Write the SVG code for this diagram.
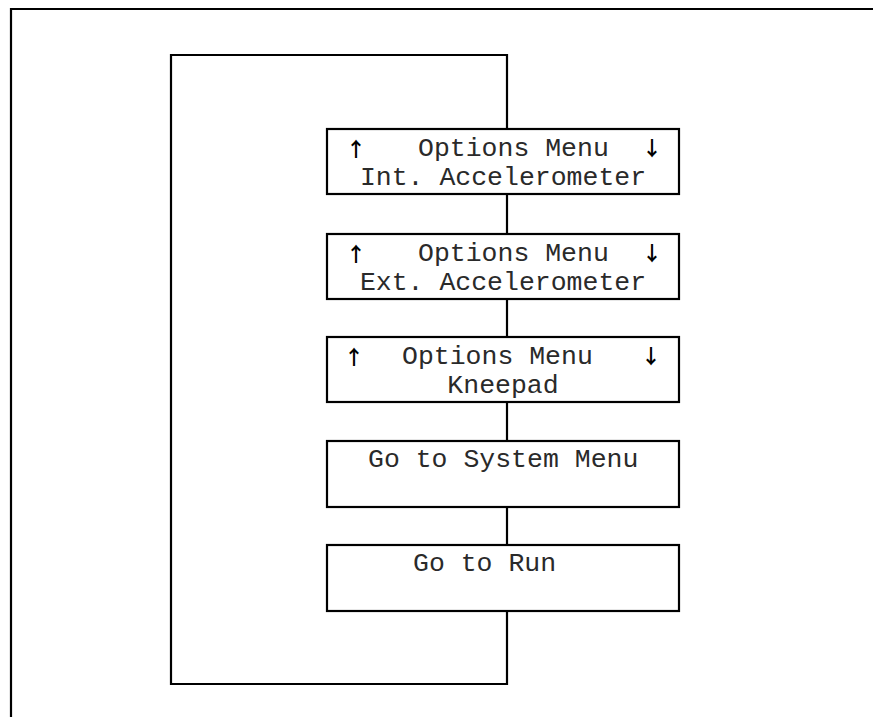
<svg xmlns="http://www.w3.org/2000/svg" width="873" height="717" viewBox="0 0 873 717">
<style>
.ln{fill:none;stroke:#000;stroke-width:2.2}
.box{fill:#fff;stroke:#000;stroke-width:2.2}
text{font-family:"Liberation Mono","Courier New",monospace;font-size:26.5px;fill:#2a2a2a}
.c{text-anchor:middle}
.ar{font-family:"Noto Sans CJK SC",sans-serif;font-size:20px;font-weight:bold;fill:#000;text-anchor:middle}
</style>
<rect width="873" height="717" fill="#fff"/>
<path class="ln" d="M11,717 V9 H873"/>
<g id="connectors">
<path class="ln" d="M507,129 V55 H171 V684 H507 V611"/>
<path class="ln" d="M507,194 V234"/>
<path class="ln" d="M507,299 V337"/>
<path class="ln" d="M507,402 V441"/>
<path class="ln" d="M507,507 V545"/>
</g>
<g id="n1">
<rect class="box" x="327" y="129" width="352" height="65"/>
<text class="ar" x="356" y="157">↑</text>
<text x="418" y="156">Options Menu</text>
<text class="ar" x="652" y="156">↓</text>
<text class="c" x="503" y="185">Int. Accelerometer</text>
</g>
<g id="n2">
<rect class="box" x="327" y="234" width="352" height="65"/>
<text class="ar" x="356" y="262">↑</text>
<text x="418" y="261">Options Menu</text>
<text class="ar" x="652" y="261">↓</text>
<text class="c" x="503" y="290">Ext. Accelerometer</text>
</g>
<g id="n3">
<rect class="box" x="327" y="337" width="352" height="65"/>
<text class="ar" x="354" y="365">↑</text>
<text x="402" y="364">Options Menu</text>
<text class="ar" x="651" y="364">↓</text>
<text class="c" x="503" y="393">Kneepad</text>
</g>
<g id="n4">
<rect class="box" x="327" y="441" width="352" height="66"/>
<text x="368" y="467">Go to System Menu</text>
</g>
<g id="n5">
<rect class="box" x="327" y="545" width="352" height="66"/>
<text x="413" y="571">Go to Run</text>
</g>
</svg>
